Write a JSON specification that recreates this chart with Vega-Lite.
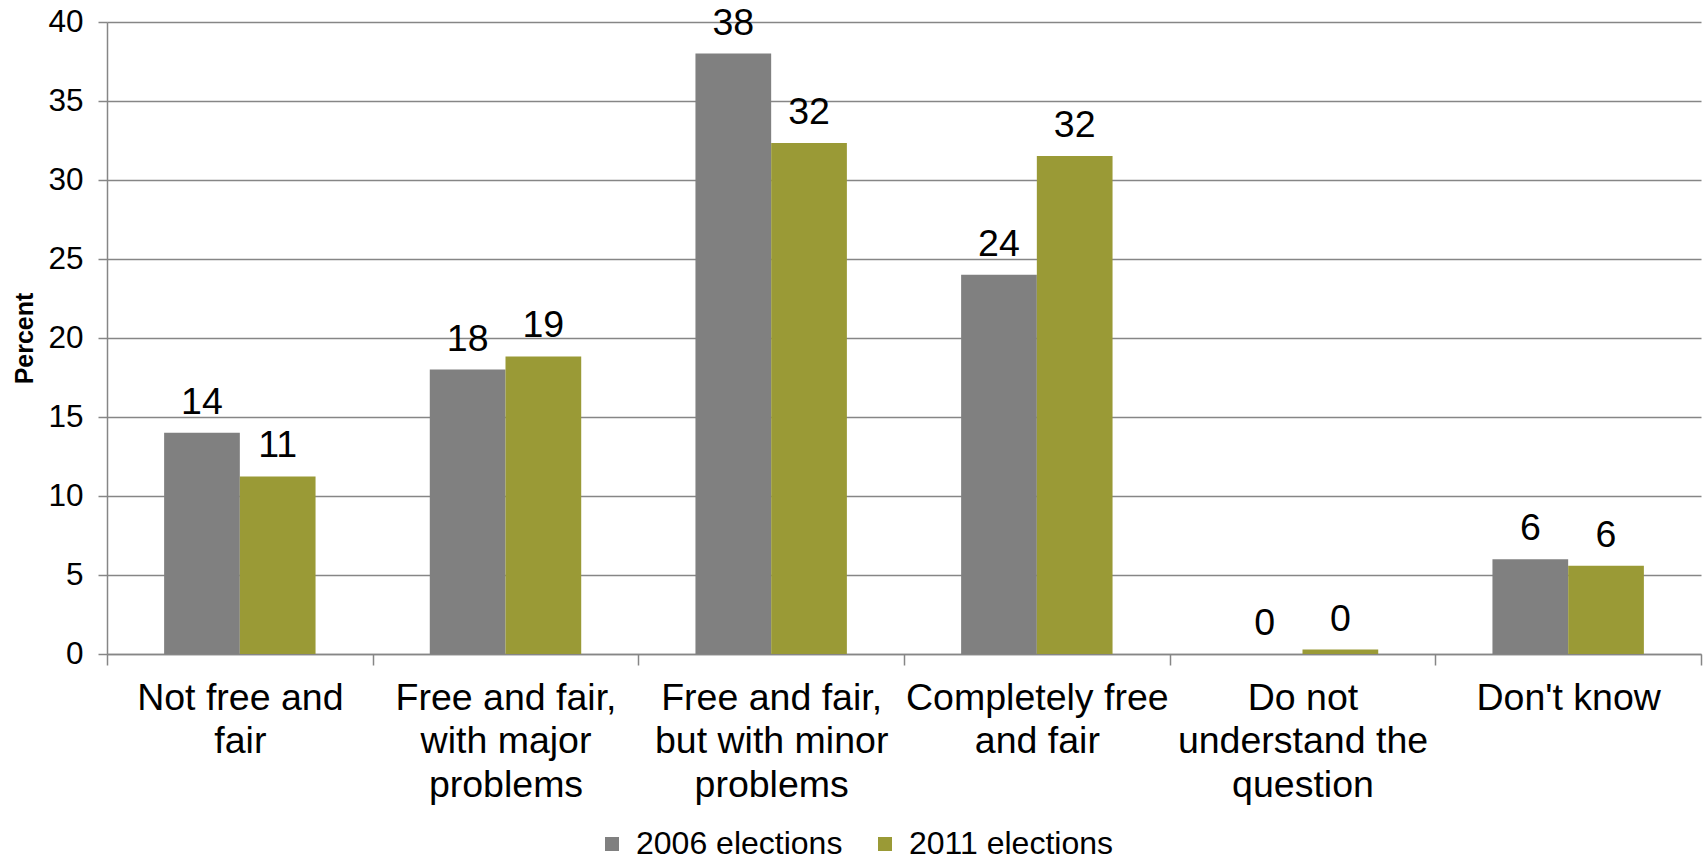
{
  "$schema": "https://vega.github.io/schema/vega-lite/v6.json",
  "autosize": {"type": "none"},
  "width": 1594,
  "height": 632,
  "padding": {"left": 107, "top": 22, "right": 7, "bottom": 207},
  "background": "white",
  "config": {
    "view": {"stroke": null},
    "font": "Liberation Sans",
    "axis": {"labelFont": "Liberation Sans", "titleFont": "Liberation Sans", "labelColor": "black", "titleColor": "black"},
    "legend": {"labelFont": "Liberation Sans"}
  },
  "data": {
    "values": [
      {"category": "Not free and fair", "year": "2006 elections", "percent": 14},
      {"category": "Not free and fair", "year": "2011 elections", "percent": 11.24},
      {"category": "Free and fair, with major problems", "year": "2006 elections", "percent": 18},
      {"category": "Free and fair, with major problems", "year": "2011 elections", "percent": 18.83},
      {"category": "Free and fair, but with minor problems", "year": "2006 elections", "percent": 38},
      {"category": "Free and fair, but with minor problems", "year": "2011 elections", "percent": 32.34},
      {"category": "Completely free and fair", "year": "2006 elections", "percent": 24},
      {"category": "Completely free and fair", "year": "2011 elections", "percent": 31.52},
      {"category": "Do not understand the question", "year": "2006 elections", "percent": 0},
      {"category": "Do not understand the question", "year": "2011 elections", "percent": 0.28},
      {"category": "Don't know", "year": "2006 elections", "percent": 6},
      {"category": "Don't know", "year": "2011 elections", "percent": 5.59}
    ]
  },
  "encoding": {
    "x": {
      "field": "category",
      "type": "nominal",
      "sort": null,
      "scale": {"paddingInner": 0.43, "paddingOuter": 0.215}
    },
    "xOffset": {"field": "year", "type": "nominal", "scale": {"paddingInner": 0}},
    "y": {
      "field": "percent",
      "type": "quantitative",
      "scale": {"domain": [0, 40]},
      "axis": {
        "title": "Percent",
        "titleFontSize": 25,
        "titleFontWeight": "bold",
        "titlePadding": 10,
        "values": [0, 5, 10, 15, 20, 25, 30, 35, 40],
        "labelFontSize": 31.5,
        "labelPadding": 15,
        "tickSize": 9,
        "tickColor": "#868686",
        "tickWidth": 1.5,
        "domainColor": "#868686",
        "domainWidth": 1.5,
        "grid": true,
        "gridColor": "#868686",
        "gridWidth": 1.5
      }
    }
  },
  "layer": [
    {
      "mark": {"type": "bar"},
      "encoding": {
        "x": {
          "field": "category",
          "type": "nominal",
          "sort": null,
          "axis": {
            "title": null,
            "labelAngle": 0,
            "labelFontSize": 37.5,
            "labelLineHeight": 43.6,
            "labelPadding": 14,
            "labelBaseline": "top",
            "labelLimit": 0,
            "labelOverlap": false,
            "labelExpr": "{'Not free and fair': ['Not free and', 'fair'], 'Free and fair, with major problems': ['Free and fair,', 'with major', 'problems'], 'Free and fair, but with minor problems': ['Free and fair,', 'but with minor', 'problems'], 'Completely free and fair': ['Completely free', 'and fair'], 'Do not understand the question': ['Do not', 'understand the', 'question'], \"Don't know\": \"Don't know\"}[datum.value]",
            "tickOffset": -132.83,
            "labelOffset": 132.83,
            "tickSize": 11,
            "tickColor": "#868686",
            "tickWidth": 1.5,
            "domainColor": "#868686",
            "domainWidth": 1.5,
            "grid": false
          }
        },
        "color": {
          "field": "year",
          "type": "nominal",
          "scale": {"domain": ["2006 elections", "2011 elections"], "range": ["#808080", "#9A9A36"]},
          "legend": {
            "title": null,
            "orient": "none",
            "direction": "horizontal",
            "legendX": 489,
            "legendY": 806,
            "symbolType": "square",
            "symbolSize": 196,
            "symbolStrokeWidth": 0,
            "labelFontSize": 32,
            "labelLimit": 0,
            "labelOffset": 8,
            "columnPadding": 26
          }
        }
      }
    },
    {
      "mark": {"type": "text", "fontSize": 37.5, "baseline": "alphabetic", "dy": -19, "color": "black"},
      "encoding": {
        "x": {
          "field": "category",
          "type": "nominal",
          "sort": null,
          "axis": {
            "orient": "bottom",
            "title": null,
            "values": ["Don't know"],
            "labels": false,
            "domain": false,
            "grid": false,
            "tickOffset": 132.83,
            "tickSize": 11,
            "tickColor": "#868686",
            "tickWidth": 1.5
          }
        },
        "text": {"field": "percent", "type": "quantitative", "format": ".0f"}
      }
    }
  ],
  "resolve": {"axis": {"x": "independent"}}
}
